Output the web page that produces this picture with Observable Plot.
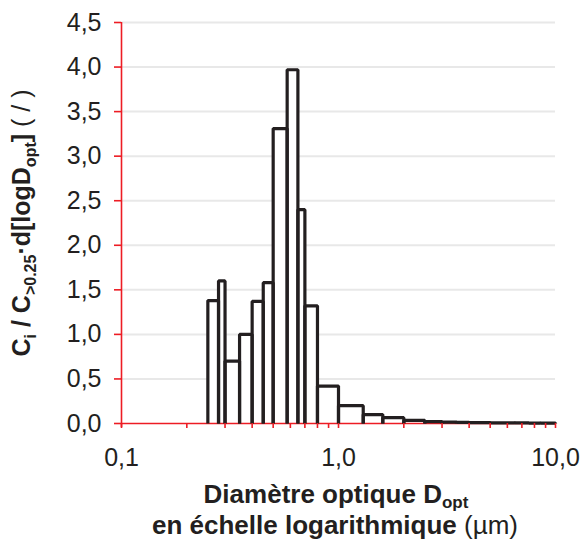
<!DOCTYPE html>
<html><head><meta charset="utf-8">
<script src="https://cdn.jsdelivr.net/npm/d3@7"></script>
<script src="https://cdn.jsdelivr.net/npm/@observablehq/plot@0.6"></script>
<style>body{margin:0;background:#fff} svg{display:block}</style>
</head><body><div id="chart"></div>
<script>
// Bin edges (µm) and normalised concentrations
const binEdges = [0.25,0.28,0.30,0.35,0.40,0.45,0.50,0.58,0.65,0.70,0.80,1.0,1.3,1.6,2.0,2.5,3.0,3.5,4.0,5.0,6.5,7.5,8.5,10];
const binValues = [1.38,1.60,0.70,1.00,1.37,1.58,3.31,3.97,2.40,1.32,0.42,0.20,0.10,0.065,0.035,0.02,0.015,0.012,0.01,0.008,0.006,0.005,0.005];
const yTicks = [0,0.5,1,1.5,2,2.5,3,3.5,4,4.5];
const yTickLabels = ["0,0","0,5","1,0","1,5","2,0","2,5","3,0","3,5","4,0","4,5"];
const xMajor = [0.1,1,10];
const xMajorLabels = ["0,1","1,0","10,0"];
const xMinor = [0.2,0.3,0.4,0.5,0.6,0.7,0.8,0.9,2,3,4,5,6,7,8,9];

const RED = "#ed1c24", INK = "#231f20";
const bins = binValues.map((v,i)=>({x1:binEdges[i], x2:binEdges[i+1], y:v, id:i}));
const outline = bins.flatMap(b=>[
  {x:b.x1,y:0,id:b.id},{x:b.x1,y:b.y,id:b.id},{x:b.x2,y:b.y,id:b.id},{x:b.x2,y:0,id:b.id}
]);

const chart = Plot.plot({
  width:581, height:542,
  marginLeft:121, marginRight:26, marginTop:22, marginBottom:119,
  x:{type:"log", domain:[0.1,10]},
  y:{domain:[0,4.5]},
  style:{fontFamily:"'Liberation Sans', Arial, sans-serif", fontSize:"25px", color:INK, background:"white"},
  marks:[
    Plot.ruleY(yTicks.slice(1), {stroke:"#e8e8e8", strokeWidth:2}),
    Plot.rectY(bins, {x1:"x1", x2:"x2", y:"y", fill:"white"}),
    Plot.ruleY([0], {stroke:RED, strokeWidth:1.6}),
    Plot.ruleX([0.1], {stroke:RED, strokeWidth:1.6, insetBottom:-4}),
    Plot.line(outline, {x:"x", y:"y", z:"id", stroke:INK, strokeWidth:3.2, strokeLinejoin:"miter", strokeLinecap:"butt"}),
    Plot.axisY({ticks:yTicks, tickFormat:(d)=>yTickLabels[yTicks.indexOf(d)], tickSize:7, tickPadding:13, stroke:RED, strokeWidth:1.6, fill:INK, label:null}),
    Plot.axisX({ticks:[...xMajor, ...xMinor], tickFormat:(d)=>{const i=xMajor.indexOf(d); return i>=0?xMajorLabels[i]:"";}, tickSize:5, tickPadding:20, stroke:RED, strokeWidth:1.6, fill:INK, label:null})
  ]
});

const svg = d3.select(chart);
const ff = "'Liberation Sans', Arial, sans-serif";
// Y-axis title
const yl = svg.append("text")
  .attr("transform","translate(30,223) rotate(-90)")
  .attr("text-anchor","middle").attr("font-family",ff).attr("font-size",25).attr("fill",INK);
const b = yl.append("tspan").attr("font-weight","bold");
b.append("tspan").text("C");
b.append("tspan").attr("font-size",16).attr("dy",6).text("i");
b.append("tspan").attr("dy",-6).text(" / C");
b.append("tspan").attr("font-size",16).attr("dy",6).text(">0.25");
b.append("tspan").attr("dy",-6).text("·d[logD");
b.append("tspan").attr("font-size",16).attr("dy",6).text("opt");
b.append("tspan").attr("dy",-6).text("]");
yl.append("tspan").attr("font-weight","normal").text(" ( / )");

// X-axis title
const x1 = svg.append("text").attr("x",336).attr("y",503)
  .attr("text-anchor","middle").attr("font-family",ff).attr("font-size",26).attr("font-weight","bold").attr("fill",INK);
x1.append("tspan").text("Diamètre optique D");
x1.append("tspan").attr("font-size",17).attr("dy",5).text("opt");
const x2 = svg.append("text").attr("x",335).attr("y",534)
  .attr("text-anchor","middle").attr("font-family",ff).attr("font-size",26).attr("fill",INK);
x2.append("tspan").attr("font-weight","bold").text("en échelle logarithmique ");
x2.append("tspan").attr("font-weight","normal").text("(µm)");

document.getElementById("chart").appendChild(chart);
</script>
</body></html>
